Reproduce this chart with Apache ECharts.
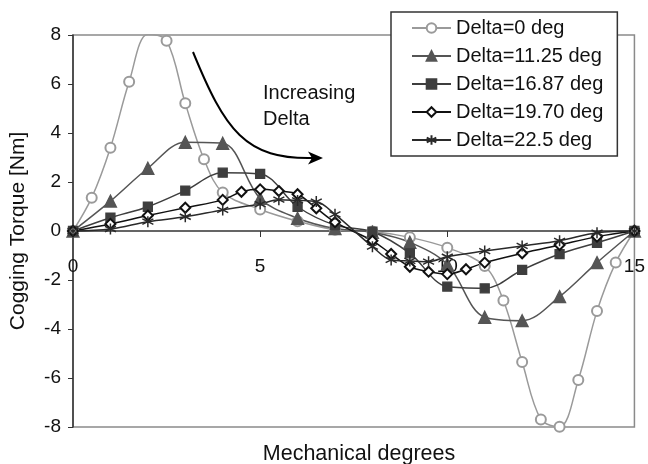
<!DOCTYPE html>
<html>
<head>
<meta charset="utf-8">
<script src="https://cdn.jsdelivr.net/npm/echarts@6/dist/echarts.min.js"></script>
<style>
  html, body { margin: 0; padding: 0; background: #fff; }
  #chart { width: 648px; height: 464px; }
</style>
</head>
<body>
<div id="chart"></div>
<script>
// Cogging torque vs. rotor position for several skew angles (Delta)
const seriesNames = ['Delta=0 deg', 'Delta=11.25 deg', 'Delta=16.87 deg', 'Delta=19.70 deg', 'Delta=22.5 deg'];

const xDelta0 = [0, 0.5, 1, 1.5, 2, 2.5, 3, 3.5, 4, 5, 6, 7, 8, 9, 10, 11, 11.5, 12, 12.5, 13, 13.5, 14, 14.5, 15];
const yDelta0 = [0, 1.36, 3.40, 6.09, 8.03, 7.77, 5.21, 2.93, 1.57, 0.88, 0.40, 0.05, -0.02, -0.26, -0.68, -1.43, -2.84, -5.35, -7.69, -7.99, -6.08, -3.27, -1.29, 0];

const xDelta1125 = [0, 1, 2, 3, 4, 5, 6, 7, 8, 9, 10, 11, 12, 13, 14, 15];
const yDelta1125 = [0, 1.22, 2.56, 3.62, 3.58, 1.33, 0.52, 0.10, -0.05, -0.46, -1.36, -3.52, -3.66, -2.68, -1.29, 0];

const xDelta1687 = [0, 1, 2, 3, 4, 5, 6, 7, 8, 9, 10, 11, 12, 13, 14, 15];
const yDelta1687 = [0, 0.54, 0.99, 1.65, 2.38, 2.33, 0.99, 0.24, -0.03, -0.91, -2.27, -2.34, -1.59, -0.94, -0.48, 0];

const xDelta1970 = [0, 1, 2, 3, 4, 4.5, 5, 5.5, 6, 6.5, 7, 8, 8.5, 9, 9.5, 10, 10.5, 11, 12, 13, 14, 15];
const yDelta1970 = [0, 0.29, 0.63, 0.95, 1.27, 1.60, 1.70, 1.63, 1.50, 0.93, 0.36, -0.40, -0.94, -1.46, -1.66, -1.76, -1.56, -1.29, -0.91, -0.57, -0.23, 0];

const xDelta225 = [0, 1, 2, 3, 4, 5, 5.5, 6, 6.5, 7, 8, 8.5, 9, 9.5, 10, 11, 12, 13, 14, 15];
const yDelta225 = [0, 0.08, 0.38, 0.58, 0.86, 1.10, 1.28, 1.25, 1.20, 0.68, -0.64, -1.18, -1.22, -1.25, -1.05, -0.82, -0.61, -0.40, -0.07, 0];

const xTicks = { min: 0, max: 15, interval: 5 };
const yTicks = { min: -8, max: 8, interval: 2 };

const FONT = '"Liberation Sans", Arial, sans-serif';
const asterisk = 'path://M0,-10L0,10M-8.66,-5L8.66,5M-8.66,5L8.66,-5';

// plot box in pixels
const GRID = { left: 71, right: 11, top: 35, bottom: 37 };
const plotHeight = 464 - GRID.top - GRID.bottom;
// the x axis runs along the zero line, half way up the symmetric y range
const zeroOffset = -plotHeight * (0 - yTicks.min) / (yTicks.max - yTicks.min);

function pairs(xs, ys) { return xs.map((x, i) => [x, ys[i]]); }

function lineSeries(name, xs, ys, color, symbol, size, extra) {
  return Object.assign({
    name: name,
    type: 'line',
    data: pairs(xs, ys),
    smooth: 0.35,
    symbol: symbol,
    symbolSize: size,
    showAllSymbol: true,
    lineStyle: { color: color, width: 1.5 },
    itemStyle: { color: color, borderColor: color, borderWidth: 1.3 },
    emphasis: { disabled: true },
    animation: false
  }, extra || {});
}

const chart = echarts.init(document.getElementById('chart'), null, { renderer: 'canvas' });

chart.setOption({
  backgroundColor: '#ffffff',
  animation: false,
  textStyle: { fontFamily: FONT },
  title: {
    text: 'Mechanical degrees',
    left: 354,
    top: 438,
    textAlign: 'center',
    textStyle: { fontFamily: FONT, fontSize: 21.5, fontWeight: 'normal', color: '#111' }
  },
  grid: {
    left: GRID.left, right: GRID.right, top: GRID.top, bottom: GRID.bottom,
    show: true, borderColor: '#8a8a8a', borderWidth: 1.5, backgroundColor: 'transparent'
  },
  legend: {
    orient: 'vertical',
    left: 391,
    top: 12,
    data: seriesNames,
    backgroundColor: '#ffffff',
    borderColor: '#333',
    borderWidth: 1.5,
    borderRadius: 0,
    padding: [6, 14, 6, 20],
    itemWidth: 39,
    itemHeight: 12,
    itemGap: 8,
    textStyle: { fontFamily: FONT, fontSize: 20, color: '#111' }
  },
  xAxis: {
    type: 'value',
    position: 'bottom',
    offset: zeroOffset,
    min: xTicks.min, max: xTicks.max, interval: xTicks.interval,
    axisLine: { onZero: false, lineStyle: { color: '#333', width: 1.5 } },
    axisTick: { show: true, inside: false, length: 6, lineStyle: { color: '#333' } },
    axisLabel: { fontFamily: FONT, fontSize: 19, color: '#111', margin: 26 },
    splitLine: { show: false }
  },
  yAxis: {
    type: 'value',
    min: yTicks.min, max: yTicks.max, interval: yTicks.interval,
    name: 'Cogging Torque [Nm]',
    nameLocation: 'middle',
    nameGap: 44,
    nameTextStyle: { fontFamily: FONT, fontSize: 21, color: '#111' },
    axisLine: { show: true, onZero: false, lineStyle: { color: '#333', width: 1.5 } },
    axisTick: { show: true, inside: false, length: 5, lineStyle: { color: '#333' } },
    axisLabel: { fontFamily: FONT, fontSize: 19, color: '#111', margin: 12 },
    splitLine: { show: false }
  },
  series: [
    lineSeries(seriesNames[0], xDelta0, yDelta0, '#9a9a9a', 'emptyCircle', 10),
    lineSeries(seriesNames[1], xDelta1125, yDelta1125, '#555555', 'triangle', 12),
    lineSeries(seriesNames[2], xDelta1687, yDelta1687, '#3e3e3e', 'rect', 9),
    lineSeries(seriesNames[3], xDelta1970, yDelta1970, '#111111', 'emptyDiamond', 10),
    lineSeries(seriesNames[4], xDelta225, yDelta225, '#2a2a2a', asterisk, 11,
      { itemStyle: { color: '#2a2a2a', borderColor: '#2a2a2a', borderWidth: 1.5 } })
  ],
  graphic: [
    {
      type: 'bezierCurve',
      z: 100,
      shape: { x1: 193, y1: 52, cpx1: 225, cpy1: 130, cpx2: 245, cpy2: 160, x2: 314, y2: 158 },
      style: { stroke: '#000', lineWidth: 2, fill: null }
    },
    {
      type: 'polygon',
      z: 100,
      shape: { points: [[323, 158], [308, 151.5], [312, 158], [308, 164.5]] },
      style: { fill: '#000' }
    },
    {
      type: 'text',
      z: 100,
      left: 263, top: 80,
      style: { text: 'Increasing\nDelta', font: '20px ' + FONT, fill: '#111', lineHeight: 26 }
    }
  ]
});
</script>
</body>
</html>
